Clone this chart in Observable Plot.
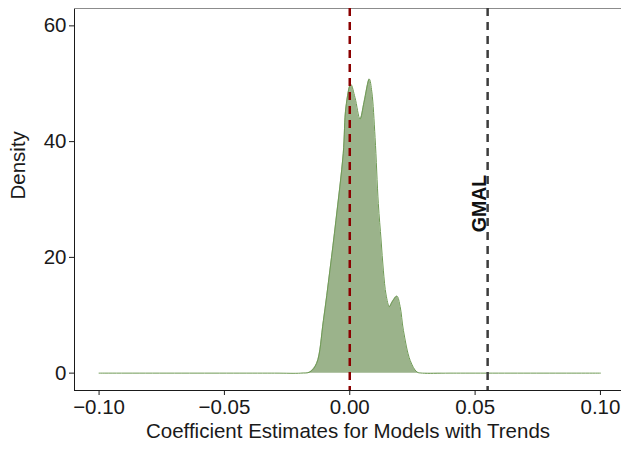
<!DOCTYPE html>
<html>
<head>
<meta charset="utf-8">
<script src="https://cdn.jsdelivr.net/npm/d3@7"></script>
<script src="https://cdn.jsdelivr.net/npm/@observablehq/plot@0.6"></script>
<style>
  html, body { margin: 0; padding: 0; background: #fff; }
  #chart { width: 621px; height: 449px; }
</style>
</head>
<body>
<div id="chart"></div>
<script>
// Density estimate of coefficient estimates
const estimate = [-0.1, -0.03, -0.0195, -0.0159, -0.0132, -0.0105, -0.0079, -0.0055, -0.0026, -0.0015, 0.0004, 0.0021, 0.0041, 0.0057, 0.0078, 0.0088, 0.0101, 0.0114, 0.0125, 0.0134, 0.0145, 0.0158, 0.0169, 0.0188, 0.0201, 0.0214, 0.0241, 0.0268, 0.029, 0.04, 0.1];
const density  = [0, 0, 0, 0.2, 1.7, 9.1, 17.8, 26.4, 37.9, 46.0, 49.9, 47.6, 43.9, 46.8, 50.8, 48.6, 40.7, 29.3, 23.0, 17.8, 13.5, 11.5, 12.3, 13.3, 11.5, 7.4, 2.2, 0.2, 0, 0, 0];

// Reference lines
const zeroLine = [0];
const gmalLine = [0.055];
const gmalLabel = ["GMAL"];
const gmalLabelX = [0.052];
const gmalLabelY = [29.3];

// Axes
const xTicks = [-0.1, -0.05, 0, 0.05, 0.1];
const yTicks = [0, 20, 40, 60];
const xTitle = "Coefficient Estimates for Models with Trends";
const yTitle = "Density";

const xDomain = [-0.1098, 0.1084];
const yDomain = [-3.0, 63.0];

const data = estimate.map((x, i) => ({x, y: density[i]}));
const fmt = d => (d < 0 ? "\u2212" : "") + Math.abs(d).toFixed(2);

const chart = Plot.plot({
  width: 621,
  height: 449,
  marginLeft: 74,
  marginRight: 0,
  marginTop: 8,
  marginBottom: 59,
  style: {fontFamily: "'Liberation Sans', Arial, sans-serif", fontSize: "20.5px", color: "#1a1a1a", background: "#fff"},
  x: {domain: xDomain, ticks: xTicks, tickFormat: fmt, tickSize: 5, tickPadding: 4, line: true, label: null},
  y: {domain: yDomain, ticks: yTicks, tickSize: 5, tickPadding: 3, line: true, label: null},
  marks: [
    Plot.ruleY([yDomain[1]], {stroke: "#8c8c8c", strokeWidth: 1.2}),
    Plot.areaY(data, {x: "x", y: "y", y1: 0, curve: "catmull-rom", fill: "#9bb38b"}),
    Plot.lineY(data, {x: "x", y: "y", curve: "catmull-rom", stroke: "#6f9a55", strokeWidth: 1}),
    Plot.ruleX(zeroLine, {stroke: "#8b0000", strokeWidth: 2.5, strokeDasharray: "8,6"}),
    Plot.ruleX(gmalLine, {stroke: "#3c3c3c", strokeWidth: 2.5, strokeDasharray: "8,6"}),
    Plot.text(gmalLabel, {x: gmalLabelX, y: gmalLabelY, text: d => d, rotate: -90, fontWeight: "bold", fontSize: 19.5, fill: "#111"}),
    Plot.text([yTitle], {frameAnchor: "left", dx: -56, rotate: -90, fontSize: 20.5, fill: "#1a1a1a"}),
    Plot.text([xTitle], {frameAnchor: "bottom", dy: 47, fontSize: 20.5, fill: "#1a1a1a"})
  ]
});
document.getElementById("chart").appendChild(chart);
</script>
</body>
</html>
